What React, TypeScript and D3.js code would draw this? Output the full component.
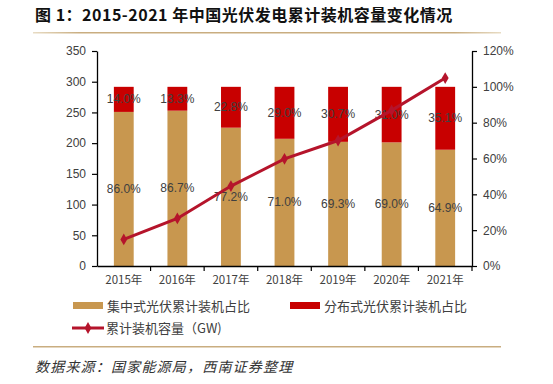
import { useRef, useEffect } from 'react';
import * as d3 from 'd3';

const years = ['2015年', '2016年', '2017年', '2018年', '2019年', '2020年', '2021年'];
const centralShare = [86.0, 86.7, 77.2, 71.0, 69.3, 69.0, 64.9];
const distShare = [14.0, 13.3, 22.8, 29.0, 30.7, 31.0, 35.1];
const capacity = [43.2, 77.4, 130.1, 174.5, 204.3, 253.4, 306.0];
const leftTicks = [0, 50, 100, 150, 200, 250, 300, 350];
const rightTicks = [0, 20, 40, 60, 80, 100, 120];

const W = 553;
const H = 384;
const X0 = 97;
const X1 = 472;
const Y0 = 266;
const Y1 = 51;
const TAN = '#C8974F';
const RED = '#C80000';
const LINE = '#B5142B';
const FONT = 'Arial, "Liberation Sans", "Noto Sans CJK SC", sans-serif';
const CJK = '"Noto Sans CJK SC", sans-serif';

export default function App() {
    const svgRef = useRef<SVGSVGElement>(null);

    useEffect(() => {
        if (!svgRef.current) return;
        const svg = d3.select(svgRef.current);
        svg.selectAll('*').remove();

        const x = d3.scaleBand().domain(years).range([X0, X1]).paddingInner(0.63).paddingOuter(0.315);
        const xb = d3.scaleBand().domain(years).range([X0, X1]);
        const yL = d3.scaleLinear().domain([0, 350]).range([Y0, Y1]);
        const yR = d3.scaleLinear().domain([0, 120]).range([Y0, Y1]);

        // title
        svg.append('text')
            .attr('x', 35).attr('y', 21)
            .attr('font-family', CJK).attr('font-weight', 700).attr('font-size', 16)
            .attr('letter-spacing', 0.5)
            .attr('fill', '#111')
            .text('图 1：2015-2021 年中国光伏发电累计装机容量变化情况');

        const grad = svg.append('defs').append('linearGradient').attr('id', 'rule');
        grad.append('stop').attr('offset', '0%').attr('stop-color', '#e8dcc4');
        grad.append('stop').attr('offset', '10%').attr('stop-color', '#c9ad80');
        grad.append('stop').attr('offset', '90%').attr('stop-color', '#c9ad80');
        grad.append('stop').attr('offset', '100%').attr('stop-color', '#e8dcc4');
        svg.append('rect').attr('x', 33).attr('y', 32).attr('width', 468).attr('height', 1.5).attr('fill', 'url(#rule)');
        svg.append('rect').attr('x', 33).attr('y', 346).attr('width', 468).attr('height', 1.5).attr('fill', '#c9ad80');

        // bars
        const g = svg.append('g');
        years.forEach((yr, i) => {
            const bx = x(yr)!;
            const bw = x.bandwidth();
            g.append('rect').attr('x', bx).attr('width', bw)
                .attr('y', yR(centralShare[i])).attr('height', Y0 - yR(centralShare[i]))
                .attr('fill', TAN);
            g.append('rect').attr('x', bx).attr('width', bw)
                .attr('y', yR(100)).attr('height', yR(100 - distShare[i]) - yR(100))
                .attr('fill', RED);
            const cx = bx + bw / 2;
            g.append('text').attr('x', cx).attr('y', yR(centralShare[i] / 2) + 4)
                .attr('text-anchor', 'middle').attr('font-family', FONT).attr('font-size', 12)
                .attr('fill', '#404040').text(centralShare[i].toFixed(1) + '%');
            g.append('text').attr('x', cx).attr('y', yR(100 - distShare[i] / 2) + 4)
                .attr('text-anchor', 'middle').attr('font-family', FONT).attr('font-size', 12)
                .attr('fill', '#404040').text(distShare[i].toFixed(1) + '%');
        });

        // line
        const lineGen = d3.line<number>()
            .x((_, i) => x(years[i])! + x.bandwidth() / 2)
            .y(d => yL(d));
        svg.append('path').attr('d', lineGen(capacity)!)
            .attr('fill', 'none').attr('stroke', LINE).attr('stroke-width', 3);
        const diamond = d3.symbol().type(d3.symbolDiamond).size(40);
        capacity.forEach((v, i) => {
            svg.append('path').attr('d', diamond()!)
                .attr('transform', `translate(${x(years[i])! + x.bandwidth() / 2},${yL(v)})`)
                .attr('fill', LINE);
        });

        // axes
        const axL = svg.append('g').attr('transform', `translate(${X0},0)`)
            .call(d3.axisLeft(yL).tickValues(leftTicks).tickSize(5).tickPadding(6).tickSizeOuter(0));
        const axR = svg.append('g').attr('transform', `translate(${X1},0)`)
            .call(d3.axisRight(yR).tickValues(rightTicks).tickSize(5).tickPadding(6).tickSizeOuter(0)
                .tickFormat(d => `${d}%`));
        const axB = svg.append('g').attr('transform', `translate(0,${Y0})`)
            .call(d3.axisBottom(xb).tickSize(0).tickPadding(10));
        [axL, axR, axB].forEach(a => {
            a.select('.domain').attr('stroke', '#000').attr('stroke-width', 1.3);
            a.selectAll('line').attr('stroke', '#000').attr('stroke-width', 1.2);
            a.selectAll('text').attr('font-family', FONT).attr('font-size', 12).attr('fill', '#404040');
        });
        axB.selectAll('text').attr('font-family', CJK).attr('font-size', 11.5);
        // x boundary ticks
        years.forEach(yr => {
            svg.append('line').attr('x1', xb(yr)! + xb.bandwidth()).attr('x2', xb(yr)! + xb.bandwidth())
                .attr('y1', Y0).attr('y2', Y0 + 5).attr('stroke', '#000').attr('stroke-width', 1.2);
        });

        // legend
        const lg = svg.append('g').attr('font-family', CJK).attr('font-size', 13).attr('fill', '#404040');
        lg.append('rect').attr('x', 73).attr('y', 302).attr('width', 30).attr('height', 7).attr('fill', TAN);
        lg.append('text').attr('x', 107).attr('y', 311).text('集中式光伏累计装机占比');
        lg.append('rect').attr('x', 290).attr('y', 302).attr('width', 30).attr('height', 7).attr('fill', RED);
        lg.append('text').attr('x', 324).attr('y', 311).text('分布式光伏累计装机占比');
        lg.append('line').attr('x1', 72).attr('x2', 104).attr('y1', 328).attr('y2', 328)
            .attr('stroke', LINE).attr('stroke-width', 3);
        lg.append('path').attr('d', diamond()!).attr('transform', 'translate(88,328)').attr('fill', LINE);
        lg.append('text').attr('x', 106).attr('y', 333).text('累计装机容量（GW)');

        // source
        svg.append('text').attr('x', 35).attr('y', 372)
            .attr('font-family', CJK).attr('font-style', 'italic').attr('font-size', 14)
            .attr('letter-spacing', 1.2)
            .attr('fill', '#333').text('数据来源：国家能源局，西南证券整理');
    }, []);

    return (
        <svg ref={svgRef} width={W} height={H}
            style={{ position: 'absolute', left: 0, top: 0, background: '#fff', display: 'block' }} />
    );
}
